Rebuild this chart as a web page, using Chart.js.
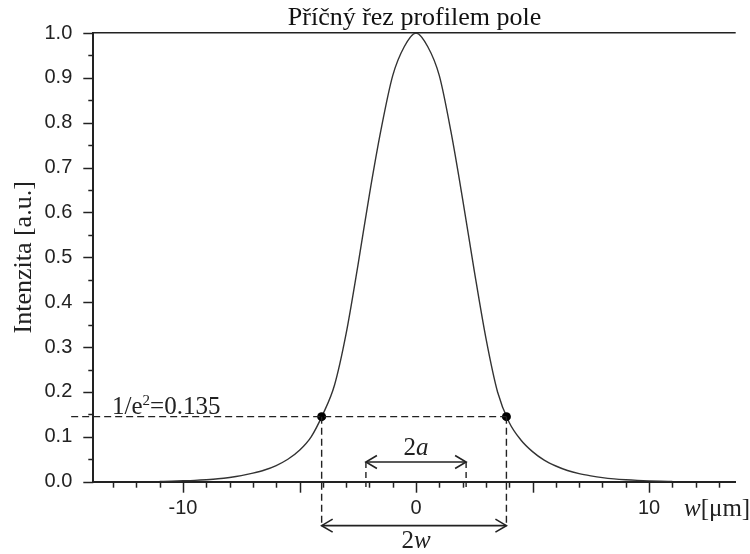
<!DOCTYPE html>
<html>
<head>
<meta charset="utf-8">
<script src="https://cdn.jsdelivr.net/npm/chart.js@4.4.1/dist/chart.umd.min.js"></script>
<style>
html,body{margin:0;padding:0;background:#ffffff;}
#wrap{width:750px;height:554px;}
</style>
</head>
<body>
<div id="wrap"><canvas id="c" width="750" height="554"></canvas></div>
<script>
// ---- data ----
const positions = [-11,-10.5,-10,-9.5,-9,-8.5,-8,-7.5,-7,-6.5,-6,-5.5,-5,-4.5,-4,-3.5,-3,-2.5,-2,-1.5,-1,-0.5,
                   0,0.5,1,1.5,2,2.5,3,3.5,4,4.5,5,5.5,6,6.5,7,7.5,8,8.5,9,9.5,10,10.5,11];
const intensity = [0.0006,0.0012,0.002,0.003,0.0045,0.0065,0.0095,0.0135,0.019,0.026,0.036,0.05,0.07,0.10,0.15,0.215,0.33,0.48,0.64,0.785,0.905,0.97,
                   1.0,0.97,0.905,0.78,0.63,0.47,0.32,0.20,0.132,0.093,0.067,0.048,0.035,0.025,0.018,0.013,0.009,0.0062,0.0043,0.0029,0.0019,0.0011,0.0005];
const e2Level = 0.145;              // dashed 1/e^2 level as drawn
const e2Points = [-4.05, 3.88];     // marked points on the curve (2w)
const coreEdges = [-2.15, 2.15];    // 2a
const widthArrowY = -0.098;         // level of the 2w arrow
const coreArrowY = 0.044;           // level of the 2a arrow
const coreGuideBottom = -0.012;
const guideStartX = -14.8;
const xRange = [-13.85, 13.72];
const yRange = [0, 1];
const xTickLabels = ['-10', '0', '10'];
const yTickLabels = ['0.0','0.1','0.2','0.3','0.4','0.5','0.6','0.7','0.8','0.9','1.0'];
const titleText = 'Příčný řez profilem pole';
const yTitle = 'Intenzita [a.u.]';

const INK = '#222222';
const SERIF = '"Liberation Serif", "Times New Roman", serif';
const SANS = '"Liberation Sans", Arial, sans-serif';

const curve = positions.map((x, i) => ({x: x, y: intensity[i]}));

const annot = {
  id: 'annot',
  afterDraw(chart) {
    const ctx = chart.ctx;
    const xs = chart.scales.x, ys = chart.scales.y;
    const X = v => xs.getPixelForValue(v);
    const Y = v => ys.getPixelForValue(v);
    const axisY = Y(0), axisX = X(xRange[0]);
    ctx.save();
    ctx.strokeStyle = INK;
    ctx.lineWidth = 1.5;
    // x tick marks
    for (let v = Math.ceil(xRange[0]); v <= Math.floor(xRange[1]); v++) {
      const len = (v % 5 === 0) ? 11 : 6;
      const p = Math.round(X(v)) + 0.5;
      ctx.beginPath(); ctx.moveTo(p, axisY); ctx.lineTo(p, axisY + len); ctx.stroke();
    }
    // y tick marks
    for (let k = 0; k <= 20; k++) {
      const len = (k % 2 === 0) ? 10 : 5;
      const p = Math.round(Y(k * 0.05)) + 0.5;
      ctx.beginPath(); ctx.moveTo(axisX - len, p); ctx.lineTo(axisX, p); ctx.stroke();
    }
    // arrow heads
    ctx.lineWidth = 1.6;
    const head = (x, y, dir) => {
      ctx.beginPath();
      ctx.moveTo(x - dir * 11, y - 6.5);
      ctx.lineTo(x, y);
      ctx.lineTo(x - dir * 11, y + 6.5);
      ctx.stroke();
    };
    head(X(coreEdges[0]), Y(coreArrowY), -1);
    head(X(coreEdges[1]), Y(coreArrowY), 1);
    head(X(e2Points[0]), Y(widthArrowY), -1);
    head(X(e2Points[1]), Y(widthArrowY), 1);

    // text runs
    ctx.fillStyle = INK;
    ctx.textBaseline = 'alphabetic';
    const runs = (parts, cx, base, align) => {
      let w = 0;
      parts.forEach(p => { ctx.font = p.f; w += ctx.measureText(p.t).width; });
      let x = align === 'left' ? cx : cx - w / 2;
      parts.forEach(p => {
        ctx.font = p.f;
        ctx.fillText(p.t, x, base + (p.dy || 0));
        x += ctx.measureText(p.t).width;
      });
    };
    const R = '25px ' + SERIF, I = 'italic 25px ' + SERIF;
    runs([{t:'2', f:R}, {t:'a', f:I}], X(0), Y(coreArrowY) - 7, 'center');
    runs([{t:'2', f:R}, {t:'w', f:I}], X(0), Y(widthArrowY) + 22, 'center');
    runs([{t:'1/e', f:R}, {t:'2', f:'15px ' + SERIF, dy:-9}, {t:'=0.135', f:R}], 112, Y(e2Level) - 3, 'left');
    runs([{t:'w', f:I}, {t:'[μm]', f:R}], 684, axisY + 34, 'left');
    ctx.restore();
  }
};

new Chart(document.getElementById('c'), {
  type: 'scatter',
  data: {
    datasets: [
      {data: curve, showLine: true, borderColor: '#333333', borderWidth: 1.4, pointRadius: 0,
       cubicInterpolationMode: 'monotone', order: 1},
      {data: [{x: guideStartX, y: e2Level}, {x: e2Points[1], y: e2Level}], showLine: true,
       borderColor: INK, borderWidth: 1.4, borderDash: [7, 4], pointRadius: 0, clip: false},
      {data: [{x: e2Points[0], y: e2Level}, {x: e2Points[0], y: widthArrowY}], showLine: true,
       borderColor: INK, borderWidth: 1.4, borderDash: [7, 4], pointRadius: 0, clip: false},
      {data: [{x: e2Points[1], y: e2Level}, {x: e2Points[1], y: widthArrowY}], showLine: true,
       borderColor: INK, borderWidth: 1.4, borderDash: [7, 4], pointRadius: 0, clip: false},
      {data: [{x: coreEdges[0], y: coreArrowY}, {x: coreEdges[0], y: coreGuideBottom}], showLine: true,
       borderColor: INK, borderWidth: 1.4, borderDash: [6, 4], pointRadius: 0, clip: false},
      {data: [{x: coreEdges[1], y: coreArrowY}, {x: coreEdges[1], y: coreGuideBottom}], showLine: true,
       borderColor: INK, borderWidth: 1.4, borderDash: [6, 4], pointRadius: 0, clip: false},
      {data: [{x: coreEdges[0], y: coreArrowY}, {x: coreEdges[1], y: coreArrowY}], showLine: true,
       borderColor: INK, borderWidth: 1.6, pointRadius: 0, clip: false},
      {data: [{x: e2Points[0], y: widthArrowY}, {x: e2Points[1], y: widthArrowY}], showLine: true,
       borderColor: INK, borderWidth: 1.6, pointRadius: 0, clip: false},
      {data: e2Points.map(x => ({x: x, y: e2Level})), showLine: false, pointRadius: 4.5,
       pointBackgroundColor: '#000', pointBorderColor: '#000', pointBorderWidth: 0, clip: false, order: 0}
    ]
  },
  options: {
    responsive: false,
    animation: false,
    devicePixelRatio: 1,
    layout: {padding: 0},
    plugins: {
      legend: {display: false},
      tooltip: {enabled: false},
      title: {display: true, text: titleText, fullSize: false, color: '#111',
              font: {family: SERIF, size: 26, weight: 'normal', lineHeight: 1.12},
              padding: {top: 2.5, bottom: 0}}
    },
    scales: {
      x: {
        type: 'linear', position: 'bottom', min: xRange[0], max: xRange[1],
        afterFit: s => { s.height = 72.3; },
        border: {display: true, color: INK, width: 2},
        grid: {display: false, drawTicks: false},
        ticks: {
          stepSize: 1, autoSkip: false, maxRotation: 0, padding: 14.3, color: INK,
          font: {family: SANS, size: 20},
          callback: v => { const s = String(Math.round(v)); return (Math.abs(v - Math.round(v)) < 1e-6 && xTickLabels.includes(s)) ? s : ''; }
        }
      },
      y: {
        type: 'linear', position: 'left', min: yRange[0], max: yRange[1],
        afterFit: s => { s.width = 93.3; },
        border: {display: true, color: INK, width: 2},
        grid: {drawOnChartArea: true, drawTicks: false, lineWidth: 1.5,
               color: c => (c.tick && Math.abs(c.tick.value - 1) < 1e-6) ? INK : 'rgba(0,0,0,0)'},
        ticks: {
          stepSize: 0.1, padding: 21, color: INK, font: {family: SANS, size: 20},
          callback: v => { const i = Math.round(v * 10); return yTickLabels[i] !== undefined ? yTickLabels[i] : ''; }
        },
        title: {display: true, text: yTitle, color: INK, font: {family: SERIF, size: 26, weight: 'normal'},
                padding: {top: 8.4, bottom: 0}}
      }
    }
  },
  plugins: [annot]
});
</script>
</body>
</html>
